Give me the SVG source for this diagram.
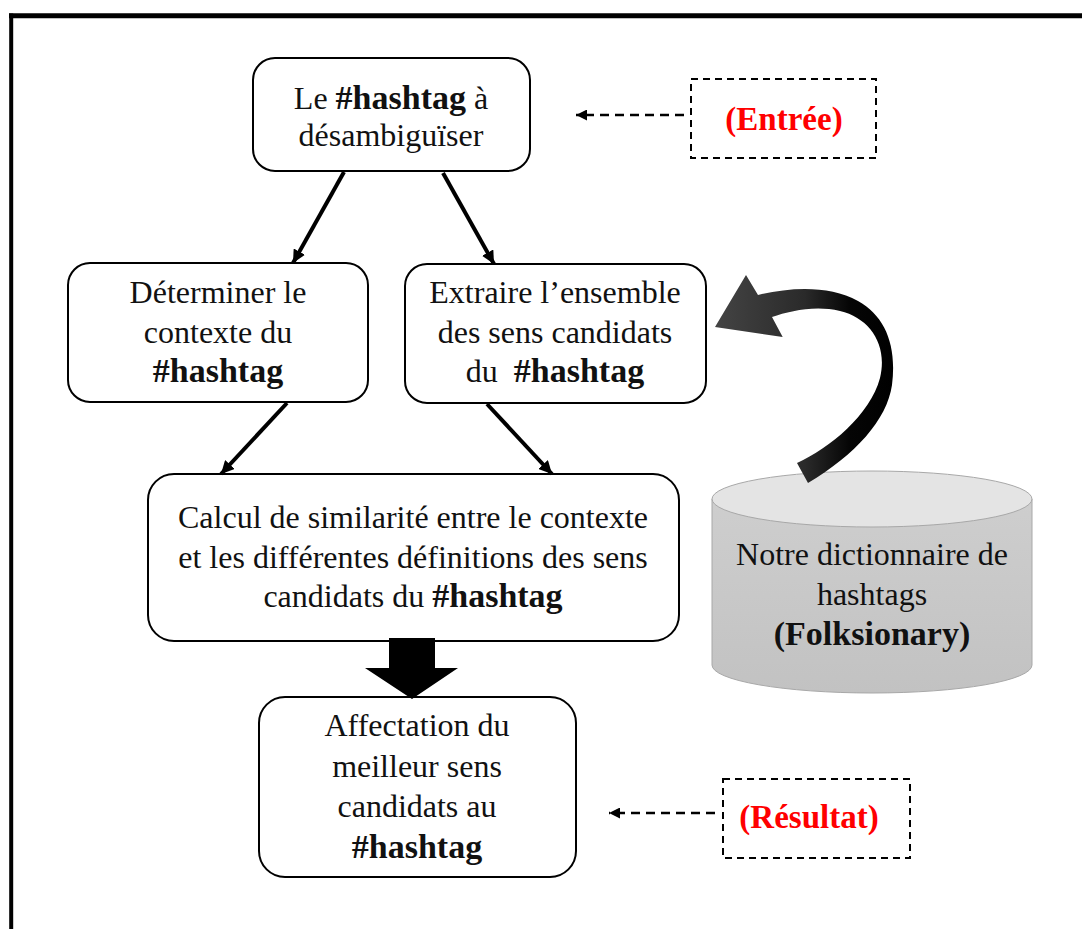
<svg xmlns="http://www.w3.org/2000/svg" width="1082" height="929" viewBox="0 0 1082 929">
<style>
.box{fill:#fff;stroke:#000;stroke-width:2}
.dbox{fill:#fff;stroke:#000;stroke-width:2;stroke-dasharray:7 5}
.t{font-family:"Liberation Serif","Times New Roman",serif;font-size:32px;fill:#111;text-anchor:middle}
.b{font-weight:bold;font-size:34px}
.red{font-family:"Liberation Serif","Times New Roman",serif;font-size:33px;font-weight:bold;fill:#ff0000;text-anchor:middle}
.arr{stroke:#000;stroke-width:4;fill:none;marker-end:url(#ah)}
.darr{stroke:#000;stroke-width:2.5;fill:none;stroke-dasharray:9 6;marker-end:url(#dh)}
</style>
<defs>
<marker id="ah" viewBox="0 0 10 10" refX="10" refY="5" markerWidth="13" markerHeight="13" markerUnits="userSpaceOnUse" orient="auto">
<path d="M0,0 L10,5 L0,10 z" fill="#000"/>
</marker>
<marker id="dh" viewBox="0 0 10 10" refX="10" refY="5" markerWidth="11" markerHeight="11" markerUnits="userSpaceOnUse" orient="auto">
<path d="M0,0 L10,5 L0,10 z" fill="#000"/>
</marker>
<linearGradient id="cyl" x1="0" y1="0" x2="0" y2="1">
<stop offset="0" stop-color="#cecece"/>
<stop offset="1" stop-color="#c2c2c2"/>
</linearGradient>
<linearGradient id="curve" gradientUnits="userSpaceOnUse" x1="715" y1="0" x2="895" y2="0">
<stop offset="0" stop-color="#444"/>
<stop offset="0.5" stop-color="#2a2a2a"/>
<stop offset="0.75" stop-color="#050505"/>
<stop offset="1" stop-color="#000"/>
</linearGradient>
</defs>
<rect x="0" y="0" width="1082" height="929" fill="#fff"/>
<g id="frame">
<line x1="9" y1="15.8" x2="1082" y2="15.8" stroke="#000" stroke-width="5"/>
<line x1="11.2" y1="13.5" x2="11.2" y2="929" stroke="#000" stroke-width="4"/>
</g>
<g id="db">
<path d="M712,499 V665 A160,28 0 0 0 1032,665 V499 Z" fill="url(#cyl)" stroke="#a8a8a8" stroke-width="1"/>
<ellipse cx="872" cy="499" rx="160" ry="28" fill="#e4e4e4" stroke="#a8a8a8" stroke-width="1"/>
<text class="t" x="872" y="565">Notre dictionnaire de</text>
<text class="t" x="872" y="605">hashtags</text>
<text class="t b" x="872" y="645">(Folksionary)</text>
</g>
<g id="input">
<rect class="box" x="253" y="58" width="277" height="113" rx="22"/>
<text class="t" x="391" y="109">Le <tspan class="b">#hashtag</tspan> à</text>
<text class="t" x="391" y="146">désambiguïser</text>
</g>
<g id="entree">
<rect class="dbox" x="691" y="79" width="185" height="79"/>
<text class="red" x="784" y="130">(Entrée)</text>
</g>
<g id="context">
<rect class="box" x="68" y="263" width="300" height="139" rx="22"/>
<text class="t" x="218" y="303">Déterminer le</text>
<text class="t" x="218" y="343">contexte du</text>
<text class="t b" x="218" y="382">#hashtag</text>
</g>
<g id="extract">
<rect class="box" x="405" y="264" width="301" height="139" rx="22"/>
<text class="t" x="555" y="303">Extraire l’ensemble</text>
<text class="t" x="555" y="343">des sens candidats</text>
<text class="t" x="555" y="382" xml:space="preserve">du  <tspan class="b">#hashtag</tspan></text>
</g>
<g id="similarity">
<rect class="box" x="148" y="474" width="531" height="167" rx="26"/>
<text class="t" x="413" y="528">Calcul de similarité entre le contexte</text>
<text class="t" x="413" y="568">et les différentes définitions des sens</text>
<text class="t" x="413" y="607">candidats du <tspan class="b">#hashtag</tspan></text>
</g>
<g id="result">
<rect class="box" x="259" y="697" width="317" height="180" rx="26"/>
<text class="t" x="417" y="736">Affectation du</text>
<text class="t" x="417" y="777">meilleur sens</text>
<text class="t" x="417" y="817">candidats au</text>
<text class="t b" x="417" y="858">#hashtag</text>
</g>
<g id="resultat">
<rect class="dbox" x="723" y="779" width="187" height="79"/>
<text class="red" x="809" y="828">(Résultat)</text>
</g>
<g id="connectors">
<line class="arr" x1="344" y1="172" x2="293" y2="263"/>
<line class="arr" x1="443" y1="173" x2="494" y2="264"/>
<line class="arr" x1="287" y1="403" x2="221" y2="474"/>
<line class="arr" x1="487" y1="404" x2="552" y2="474"/>
<line class="darr" x1="684" y1="115" x2="576" y2="115"/>
<line class="darr" x1="715" y1="813" x2="609" y2="813"/>
<path d="M389,638 H435 V668 H458 L412,699 L365,668 H389 Z" fill="#000"/>
<path d="M797,463 C830,448 870,415 880,378 C888,345 870,318 840,311 C815,305 790,311 772,317 L782.7,337 L715,327 L746,275 L758,295 C790,287 830,285 858,301 C885,316 897,345 892,385 C887,420 855,455 808,483 Z" fill="url(#curve)"/>
</g>
</svg>
